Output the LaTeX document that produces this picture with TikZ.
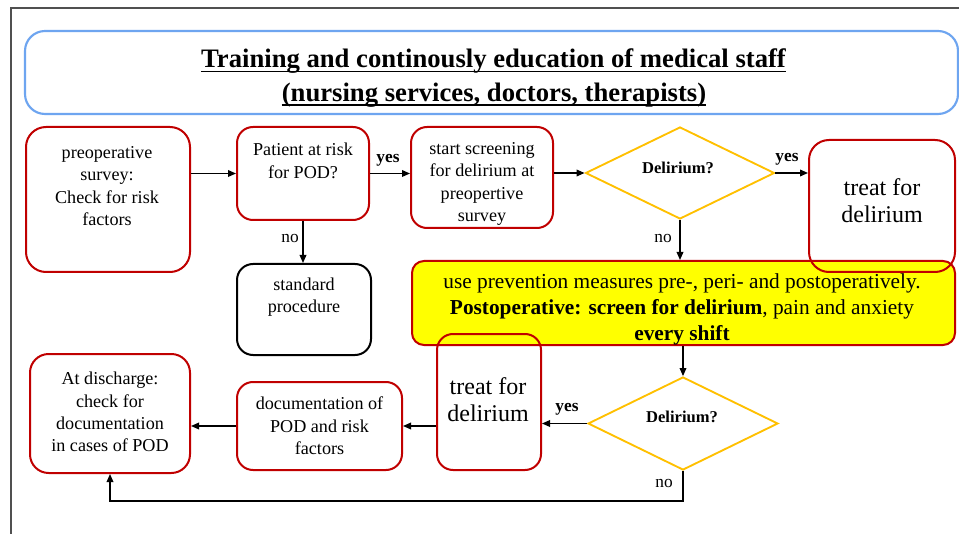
\documentclass[tikz,border=0pt]{standalone}
\usepackage{fontspec}
\setmainfont{Liberation Serif}
\usetikzlibrary{shapes.geometric,arrows.meta,fit}
\definecolor{boxred}{RGB}{192,0,0}
\definecolor{diaorange}{RGB}{255,192,0}
\definecolor{titleblue}{RGB}{110,165,240}
\definecolor{framegray}{RGB}{80,80,80}
\definecolor{hiyellow}{RGB}{255,255,0}
\begin{document}
\begin{tikzpicture}[x=0.75pt,y=-0.75pt,
  redbox/.style={draw=boxred, line width=1.5pt, rounded corners=12pt, inner sep=0pt},
  blackbox/.style={draw=black, line width=1.5pt, rounded corners=12pt, inner sep=0pt},
  titlebox/.style={draw=titleblue, line width=1.6pt, rounded corners=15pt, inner sep=0pt},
  yellowbox/.style={draw=boxred, fill=hiyellow, line width=1.5pt, rounded corners=9pt, inner sep=0pt},
  dia/.style={diamond, draw=diaorange, line width=1.4pt, inner sep=0pt},
  txt/.style={align=center, font=\fontsize{13.6pt}{16.8pt}\selectfont, inner sep=0pt},
  bigtxt/.style={align=center, font=\fontsize{18pt}{20.3pt}\selectfont, inner sep=0pt},
  yeltxt/.style={align=center, font=\fontsize{16pt}{19.5pt}\selectfont, inner sep=0pt},
  titletxt/.style={font=\bfseries\fontsize{20pt}{24pt}\selectfont, inner sep=0pt},
  diatxt/.style={font=\bfseries\fontsize{12.4pt}{15pt}\selectfont, inner sep=0pt},
  lab/.style={font=\fontsize{13pt}{15pt}\selectfont, inner sep=0pt},
  labb/.style={font=\bfseries\fontsize{13pt}{15pt}\selectfont, inner sep=0pt},
  arr/.style={draw=black, line width=1pt, -{Triangle[length=6pt,width=5pt]}},
  uline/.style={draw=black, line width=1.4pt},
]
\useasboundingbox (0,0) rectangle (959,534);
\fill[white] (0,0) rectangle (959,534);
% frame
\draw[framegray, line width=0.8pt] (959,8) -- (11,8) -- (11,534);

% title
\node[titlebox, fit={(25,31) (958,114)}] (title) {};
\node[titletxt, anchor=base] (t1) at (493.5,68) {Training and continously education of medical staff};
\node[titletxt, anchor=base] (t2) at (494,101.5) {(nursing services, doctors, therapists)};
\draw[uline] ([yshift=-2.6pt]t1.base west) -- ([yshift=-2.6pt]t1.base east);
\draw[uline] ([yshift=-2.6pt]t2.base west) -- ([yshift=-2.6pt]t2.base east);

% boxes
\node[yellowbox, fit={(412,261) (955,345)}] (prev) {};
\node[redbox, rounded corners=15pt, fit={(26,127) (190,272)}] (preop) {};
\node[redbox, fit={(237,127) (369,220)}] (patient) {};
\node[blackbox, fit={(237,264) (371,355)}] (standard) {};
\node[redbox, fit={(411,127) (553,228)}] (screen) {};
\node[redbox, rounded corners=15pt, fit={(809,140) (955,272)}] (treatA) {};
\node[redbox, fit={(437,334) (541,470)}] (treatB) {};
\node[redbox, fit={(237,382) (402,470)}] (doc) {};
\node[redbox, rounded corners=14pt, fit={(30,354) (190,473)}] (disc) {};
\node[dia, minimum width=189*0.75pt, minimum height=92*0.75pt] (dA) at (680,173) {};
\node[dia, minimum width=190*0.75pt, minimum height=93*0.75pt] (dB) at (683,423.5) {};

% texts
\node[txt] (preoptx) at (107,186) {preoperative\\survey:\\Check for risk\\factors};
\node[txt] (patienttx) at (303,161) {Patient at risk\\for POD?};
\node[txt] (standardtx) at (304,297) {standard\\procedure};
\node[txt] (screentx) at (482,184) {start screening\\for delirium at\\preopertive\\survey};
\node[bigtxt] (treatAtx) at (882,201) {treat for\\delirium};
\node[bigtxt] (treatBtx) at (488,400) {treat for\\delirium};
\node[txt] (doctx) at (319.5,426) {documentation of\\POD and risk\\factors};
\node[txt] (disctx) at (110,412) {At discharge:\\check for\\documentation\\in cases of POD};
\node[yeltxt] (prevtx) at (682,309) {use prevention measures pre-, peri- and postoperatively.\\\textbf{Postoperative: screen for delirium}, pain and anxiety\\\textbf{every shift}};
\node[diatxt] (dAtx) at (678,168) {Delirium?};
\node[diatxt] (dBtx) at (682,417) {Delirium?};

% connectors
\draw[arr] (preop.east |- patient.west) -- (patient.west);
\draw[arr] (patient.east) -- (patient.east -| screen.west);
\draw[arr] (patient.south) -- (patient.south |- standard.north);
\draw[arr] (screen.east |- dA.west) -- (dA.west);
\draw[arr] (dA.east) -- (dA.east -| treatA.west);
\draw[arr] (dA.south) -- (dA.south |- prev.north);
\draw[arr] (prev.south -| dB.north) -- (dB.north);
\draw[arr] (dB.west) -- (dB.west -| treatB.east);
\draw[arr] (doc.east -| treatB.west) -- (doc.east);
\draw[arr] (doc.west) -- (doc.west -| disc.east);
\draw[arr] (dB.south) -- ++(0,30) -| (disc.south);

% labels
\node[labb] (yes1) at (388,160) {yes};
\node[labb] (yes2) at (787,159) {yes};
\node[labb] (yes3) at (567,409) {yes};
\node[lab] (no1) at (290,239) {no};
\node[lab] (no2) at (663,239) {no};
\node[lab] (no3) at (664,483) {no};
\end{tikzpicture}
\end{document}
